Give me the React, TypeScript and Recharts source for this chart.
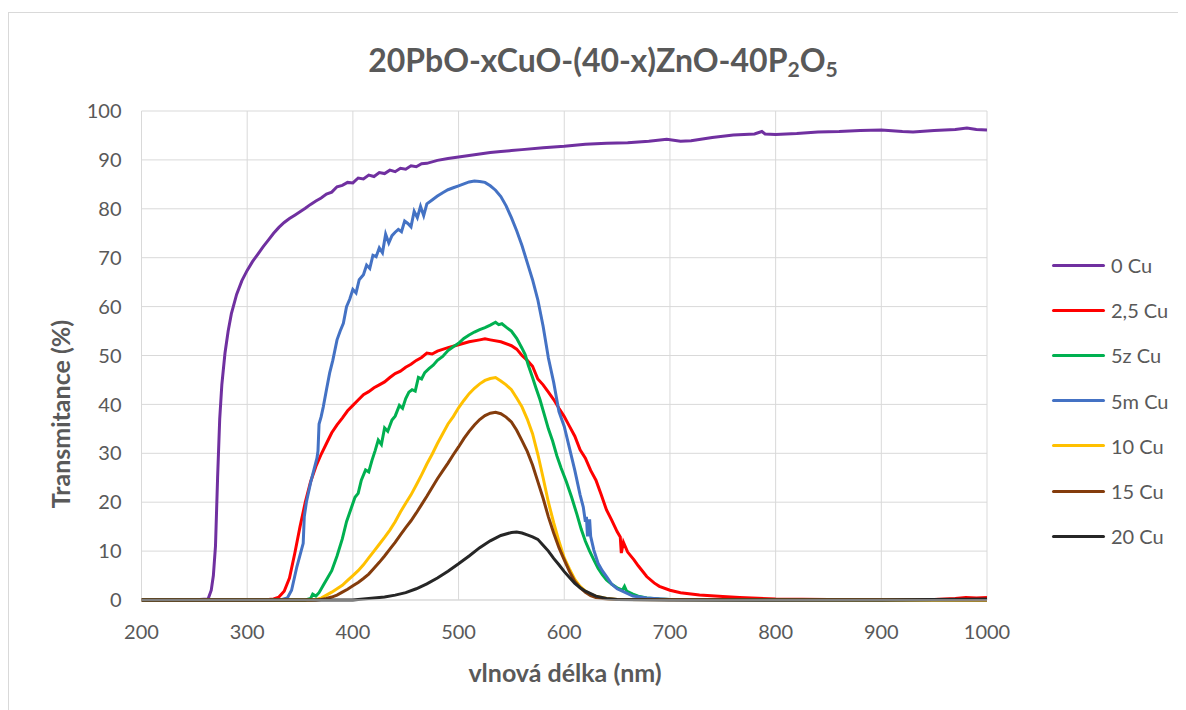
import React from 'react';
import { LineChart, Line, XAxis, YAxis, CartesianGrid, Legend } from 'recharts';

// [wavelength nm, transmittance %]
const cu0: [number, number][] = [
  [200, 0], [220, 0.1], [240, 0], [255, 0.1], [263, 0.2], [266, 2], [268, 5], [270, 11], [272, 25], [274, 37],
  [276, 44], [279, 50.5], [282, 55], [285, 58.5], [290, 62.5], [295, 65.3], [300, 67.4], [305, 69.2], [310, 70.7],
  [315, 72.2], [320, 73.6], [325, 75], [330, 76.2], [335, 77.2], [340, 78], [345, 78.7], [350, 79.4], [355, 80.1],
  [360, 80.9], [365, 81.6], [370, 82.2], [375, 83], [380, 83.4], [385, 84.5], [390, 84.8], [395, 85.4], [400, 85.3],
  [405, 86.3], [410, 86.1], [415, 86.9], [420, 86.6], [425, 87.4], [430, 87.2], [435, 87.9], [440, 87.6], [445, 88.3],
  [450, 88.1], [455, 88.8], [460, 88.6], [465, 89.2], [470, 89.3], [480, 89.9], [490, 90.3], [500, 90.6], [510, 90.9],
  [520, 91.2], [530, 91.5], [540, 91.7], [550, 91.9], [560, 92.1], [580, 92.5], [600, 92.8], [620, 93.2], [640, 93.4],
  [660, 93.5], [680, 93.8], [697, 94.2], [710, 93.8], [720, 93.9], [740, 94.6], [760, 95.1], [780, 95.3], [787, 95.8],
  [790, 95.3], [800, 95.2], [820, 95.4], [840, 95.7], [860, 95.8], [880, 96], [900, 96.1], [920, 95.8], [930, 95.7],
  [950, 96], [970, 96.2], [981, 96.5], [990, 96.2], [1000, 96.1],
];

const cu25: [number, number][] = [
  [200, 0], [300, 0], [320, 0.1], [325, 0.2], [330, 0.6], [335, 1.8], [340, 4.5], [345, 9.5], [350, 15], [355, 20],
  [360, 24.2], [365, 27.3], [370, 29.8], [375, 32], [380, 34.2], [385, 35.8], [390, 37.2], [395, 38.7], [400, 39.8],
  [405, 40.9], [410, 42], [415, 42.6], [420, 43.4], [425, 44], [430, 44.6], [435, 45.5], [440, 46.3], [445, 46.8],
  [450, 47.6], [455, 48.2], [460, 49], [465, 49.6], [470, 50.5], [475, 50.3], [480, 50.9], [490, 51.6], [500, 52.2],
  [510, 52.8], [520, 53.2], [525, 53.4], [530, 53.2], [540, 52.8], [550, 52], [555, 51.3], [560, 50], [565, 49],
  [570, 47.8], [575, 45.2], [580, 44], [585, 42.5], [590, 41], [595, 39.2], [600, 37.5], [605, 35.5], [610, 33.5],
  [615, 30.7], [620, 29], [625, 26.5], [630, 24.5], [635, 21.5], [640, 18.4], [645, 16.3], [650, 14], [653, 12.9],
  [654, 9.6], [656, 11.8], [660, 9.8], [666, 8.2], [670, 7], [678, 4.8], [685, 3.5], [690, 2.8], [700, 2], [710, 1.5],
  [728, 1], [750, 0.7], [766, 0.5], [800, 0.2], [850, 0.1], [900, 0.1], [950, 0.1], [970, 0.3], [980, 0.5], [990, 0.4],
  [1000, 0.5],
];

const cu5z: [number, number][] = [
  [200, 0], [355, 0], [360, 0.3], [362, 1.2], [365, 0.8], [368, 1.5], [372, 3], [376, 4.5], [380, 6], [385, 9],
  [390, 12.5], [394, 16], [398, 18.5], [402, 21], [405, 21.8], [408, 24.5], [412, 26.6], [415, 26.2], [418, 28.5],
  [421, 30.5], [424, 32.7], [427, 31.8], [430, 35.2], [433, 34.5], [437, 36.8], [440, 37.6], [444, 39.8], [447, 39.2],
  [450, 41.2], [453, 42.5], [456, 43], [459, 42.7], [462, 45.5], [465, 45.2], [468, 46.5], [472, 47.3], [476, 48],
  [480, 49], [485, 49.8], [490, 51], [495, 51.8], [500, 52.5], [505, 53.5], [510, 54.2], [515, 54.8], [520, 55.3],
  [525, 55.7], [530, 56.2], [535, 56.8], [538, 56.3], [541, 56.5], [545, 55.8], [550, 55], [555, 53.5], [560, 51.5],
  [563, 50.2], [566, 48], [570, 45.5], [573, 43.5], [577, 41], [581, 38], [585, 35], [589, 32.5], [593, 29.5],
  [597, 27], [602, 24.2], [607, 21], [612, 17.5], [616, 14.5], [620, 12], [624, 10], [628, 8.2], [632, 6.5],
  [636, 5.2], [640, 4.1], [645, 3.2], [650, 2.5], [655, 2], [657, 2.8], [659, 1.8], [665, 1.2], [670, 0.8],
  [678, 0.4], [690, 0.2], [700, 0.1], [1000, 0],
];

const cu5m: [number, number][] = [
  [200, 0], [320, 0], [333, 0.1], [338, 0.4], [342, 2], [347, 6.8], [351, 10], [353, 11.6], [354, 17], [356, 20],
  [360, 24], [363, 26.5], [366, 29], [367, 30.5], [368, 36], [370, 37.5], [372, 39.5], [375, 43], [378, 46.4],
  [381, 49], [385, 53.2], [388, 55], [391, 56.6], [394, 60], [397, 61.5], [400, 63.5], [403, 62.8], [406, 65.5],
  [410, 66.5], [413, 68.5], [416, 67.8], [419, 70.5], [422, 70.2], [425, 72], [428, 71], [431, 74.8], [434, 73],
  [437, 74.5], [440, 75.2], [443, 75.8], [446, 75.3], [449, 77.5], [452, 77], [455, 76.3], [458, 79.5], [461, 78.2],
  [464, 80.5], [467, 78.6], [470, 81], [475, 81.8], [480, 82.6], [485, 83.3], [490, 83.9], [495, 84.3], [500, 84.7],
  [505, 85.1], [510, 85.5], [515, 85.7], [520, 85.6], [525, 85.4], [530, 84.7], [535, 83.8], [540, 82.5], [545, 80.6],
  [550, 78.2], [555, 75.5], [560, 72.5], [565, 69], [570, 65.5], [575, 61.4], [580, 56], [585, 49.5], [590, 44.5],
  [595, 38.5], [600, 35.5], [605, 31], [610, 26.5], [615, 21.5], [618, 19], [620, 16], [621, 17], [622, 13],
  [624, 16.5], [625, 13], [628, 10.2], [632, 7.5], [636, 6], [640, 4.8], [645, 3.2], [650, 2.3], [656, 1.7],
  [665, 0.8], [678, 0.4], [700, 0.1], [800, 0], [900, 0.1], [1000, 0.1],
];

const cu10: [number, number][] = [
  [200, 0], [360, 0], [366, 0.1], [370, 0.4], [375, 1], [380, 1.6], [385, 2.3], [390, 3], [395, 4], [400, 5],
  [405, 6], [410, 7.2], [415, 8.6], [420, 10], [425, 11.4], [430, 12.8], [435, 14.3], [440, 16], [445, 18],
  [450, 19.8], [455, 21.5], [460, 23.5], [465, 25.6], [470, 27.8], [475, 29.8], [480, 32], [485, 34], [490, 36],
  [495, 37.5], [500, 39.3], [505, 40.8], [510, 42.2], [515, 43.3], [520, 44.2], [525, 44.9], [530, 45.3], [535, 45.5],
  [540, 44.8], [545, 44], [550, 43], [555, 41.3], [560, 39.5], [565, 37], [570, 34], [575, 29.8], [580, 25],
  [585, 20], [590, 15.8], [595, 12], [600, 8.6], [605, 6.3], [610, 4.2], [615, 2.8], [620, 1.8], [625, 1.2],
  [630, 0.8], [640, 0.3], [650, 0.1], [1000, 0],
];

const cu15: [number, number][] = [
  [200, 0], [365, 0], [370, 0.1], [375, 0.3], [380, 0.6], [385, 1], [390, 1.6], [395, 2.2], [400, 2.9], [405, 3.6],
  [410, 4.4], [415, 5.3], [420, 6.5], [425, 7.7], [430, 9], [435, 10.4], [440, 11.8], [445, 13.3], [450, 14.8],
  [455, 16.2], [460, 17.8], [465, 19.5], [470, 21.2], [475, 23], [480, 24.8], [485, 26.4], [490, 28], [495, 29.7],
  [500, 31.3], [505, 33], [510, 34.5], [515, 35.8], [520, 36.9], [525, 37.7], [530, 38.2], [535, 38.4], [540, 38.1],
  [545, 37.4], [550, 36.4], [555, 34.7], [560, 32.6], [565, 30.4], [570, 27.6], [575, 24.2], [580, 20.8], [585, 17],
  [590, 13.7], [595, 10.7], [600, 8.2], [605, 5.8], [610, 3.8], [615, 2.5], [620, 1.6], [625, 0.9], [630, 0.5],
  [640, 0.2], [650, 0.1], [1000, 0],
];

const cu20: [number, number][] = [
  [200, 0], [400, 0], [410, 0.2], [420, 0.4], [430, 0.6], [440, 1], [450, 1.5], [460, 2.3], [470, 3.3], [480, 4.5],
  [490, 5.9], [500, 7.4], [510, 9], [520, 10.7], [530, 12.1], [540, 13.2], [550, 13.8], [555, 13.9], [560, 13.7],
  [565, 13.3], [570, 12.9], [575, 12.4], [580, 11.2], [585, 10], [590, 8.5], [595, 7.2], [600, 5.8], [605, 4.6],
  [610, 3.4], [615, 2.5], [620, 1.8], [625, 1.3], [630, 0.8], [640, 0.3], [650, 0.1], [700, 0], [900, 0], [950, 0.1],
  [1000, 0.2],
];

const seriesNames = ['0 Cu', '2,5 Cu', '5z Cu', '5m Cu', '10 Cu', '15 Cu', '20 Cu'];
const seriesColors = ['#7030A0', '#FF0000', '#00B050', '#4472C4', '#FFC000', '#843C0C', '#262626'];
const seriesData = [cu0, cu25, cu5z, cu5m, cu10, cu15, cu20];

const xTicks = [200, 300, 400, 500, 600, 700, 800, 900, 1000];
const yTicks = [0, 10, 20, 30, 40, 50, 60, 70, 80, 90, 100];

const FONT = 'Lato, "Open Sans", sans-serif';
const TXT = '#595959';

const LegendBox = () => (
  <div style={{ fontFamily: FONT }}>
    {seriesNames.map((name, i) => (
      <div key={name} style={{ height: 45.2, display: 'flex', alignItems: 'center' }}>
        <div style={{ width: 53, height: 3, background: seriesColors[i], borderRadius: 1.5 }} />
        <span style={{ marginLeft: 6, fontSize: 20, color: TXT }}>{name}</span>
      </div>
    ))}
  </div>
);

export default function App() {
  return (
    <div style={{ position: 'relative', width: 1178, height: 702, overflow: 'hidden', fontFamily: FONT }}>
      <div style={{ position: 'absolute', left: 0, top: 4, width: 1220, height: 740, border: '1px solid #d9d9d9' }} />
      <div style={{ position: 'absolute', left: 0, top: 33, width: 1190, textAlign: 'center', fontSize: 32, fontWeight: 700, color: TXT, lineHeight: 1.2 }}>
        20PbO-xCuO-(40-x)ZnO-40P<sub style={{ fontSize: '0.66em', verticalAlign: '-0.25em' }}>2</sub>O<sub style={{ fontSize: '0.66em', verticalAlign: '-0.25em' }}>5</sub>
      </div>
      <div style={{ position: 'absolute', left: 52, top: 406, transform: 'translate(-50%, -50%) rotate(-90deg)', whiteSpace: 'nowrap', fontSize: 25, fontWeight: 700, color: TXT }}>
        Transmitance (%)
      </div>
      <div style={{ position: 'absolute', left: 557, top: 664, transform: 'translate(-50%, -50%)', whiteSpace: 'nowrap', fontSize: 25, fontWeight: 700, color: TXT }}>
        vlnová délka (nm)
      </div>
      <div style={{ position: 'absolute', left: 0, top: 4 }}>
        <LineChart width={1178} height={698} margin={{ top: 99, right: 199, left: 73.5, bottom: 80 }}>
          <CartesianGrid stroke="#d9d9d9" strokeWidth={1} />
          <XAxis
            type="number"
            dataKey="wl"
            domain={[200, 1000]}
            ticks={xTicks}
            interval={0}
            allowDataOverflow
            height={30}
            axisLine={{ stroke: '#d9d9d9' }}
            tickLine={false}
            tickMargin={19}
            tick={{ fill: TXT, fontSize: 20, fontFamily: FONT }}
          />
          <YAxis
            type="number"
            domain={[0, 100]}
            ticks={yTicks}
            interval={0}
            width={60}
            axisLine={false}
            tickLine={false}
            tickMargin={14}
            tick={{ fill: TXT, fontSize: 20, fontFamily: FONT }}
          />
          <Legend
            layout="vertical"
            align="center"
            verticalAlign="middle"
            wrapperStyle={{ left: 1044, top: 230.5, width: 140 }}
            content={() => <LegendBox />}
          />
          {seriesData.map((d, i) => (
            <Line
              key={seriesNames[i]}
              name={seriesNames[i]}
              data={d.map(([wl, t]) => ({ wl, t }))}
              dataKey="t"
              type="linear"
              stroke={seriesColors[i]}
              strokeWidth={3}
              dot={false}
              activeDot={false}
              isAnimationActive={false}
            />
          ))}
        </LineChart>
      </div>
    </div>
  );
}
